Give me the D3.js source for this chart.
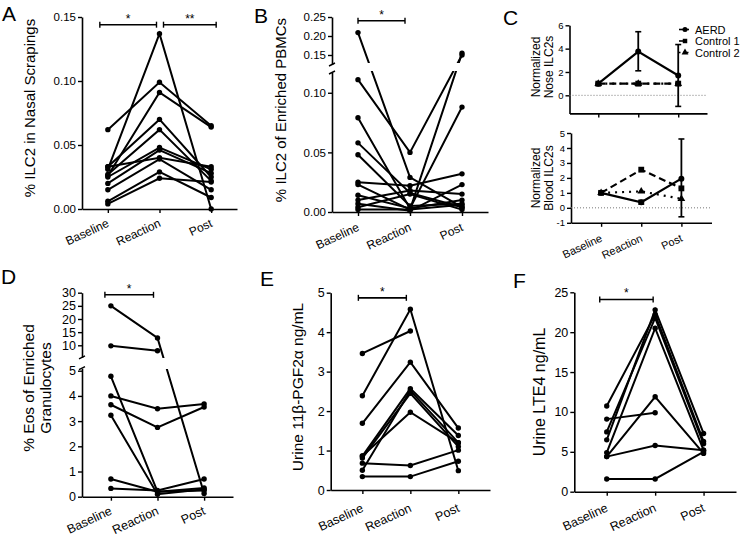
<!DOCTYPE html>
<html><head><meta charset="utf-8">
<script src="https://cdn.jsdelivr.net/npm/d3@7"></script>
<style>
body{margin:0;background:#fff}
svg{display:block}
text{font-family:"Liberation Sans",Arial,sans-serif;fill:#000}
</style>
</head><body>
<svg id="c" width="745" height="545" font-family="Liberation Sans, Arial, sans-serif"></svg>
<script>
const categories = ["Baseline","Reaction","Post"];

// Panel A: % ILC2 in Nasal Scrapings
const aBaseline = [0.062, 0.031, 0.026, 0.033, 0.027, 0.025, 0.020, 0.033, 0.015, 0.006, 0.004];
const aReaction = [0.099, 0.137, 0.091, 0.070, 0.062, 0.048, 0.046, 0.040, 0.039, 0.029, 0.024];
const aPost     = [0.065, 0.000, 0.064, 0.025, 0.022, 0.031, 0.028, 0.033, 0.015, 0.009, 0.021];
const aTicks = [0, 0.05, 0.10, 0.15];

// Panel B: % ILC2 of Enriched PBMCs
const bBaseline = [0.209, 0.111, 0.079, 0.058, 0.048, 0.025, 0.023, 0.014, 0.010, 0.007, 0.004, 0.002];
const bReaction = [0.029, 0.050, 0.003, 0.016, 0.005, 0.022, 0.002, 0.003, 0.018, 0.001, 0.015, 0.002];
const bPost     = [0.004, 0.150, 0.010, 0.004, 0.007, 0.032, 0.155, 0.088, 0.015, 0.023, 0.002, 0.006];
const bTicksLow = [0, 0.05, 0.10];
const bTicksHigh = [0.15, 0.20, 0.25];

// Panel C: normalized ILC2s
const cSeriesNames = ["AERD", "Control 1", "Control 2"];
const cNoseAERD   = [1, 3.75, 1.70];
const cNoseAERDlo = [1, 2.10, -0.95];
const cNoseAERDhi = [1, 5.45, 4.35];
const cNoseCtrl1  = [1, 1, 1];
const cNoseCtrl2  = [1, 1, 1];
const cBloodAERD   = [1, 0.37, 1.95];
const cBloodAERDlo = [1, 0.25, -0.60];
const cBloodAERDhi = [1, 0.50, 4.60];
const cBloodCtrl1  = [1, 2.55, 1.30];
const cBloodCtrl2  = [1, 1.10, 0.60];
const cNoseTicks = [0, 2, 4, 6];
const cBloodTicks = [-1, 0, 1, 2, 3, 4, 5];

// Panel D: % Eos of Enriched Granulocytes
const dBaseline = [25.0, 9.8, 4.78, 4.00, 3.65, 3.23, 0.70, 0.33];
const dReaction = [12.8, 7.9, 0.20, 3.49, 2.75, 0.10, 0.20, 0.25];
const dPost     = [0.13, null, 0.35, 3.68, 3.56, 0.30, 0.25, 0.70];
const dTicksLow = [0, 1, 2, 3, 4, 5];
const dTicksHigh = [10, 15, 20, 25, 30];

// Panel E: Urine 11β-PGF2α
const eBaseline = [3.46, 2.39, 1.69, 0.86, 0.50, 0.81, 0.86, 0.68, 0.34];
const eReaction = [4.03, 4.58, 3.24, 2.57, 2.52, 2.45, 1.97, 0.62, 0.34];
const ePost     = [null, 0.49, 1.57, 1.38, 1.20, 1.10, 1.20, 1.01, 0.73];
const eTicks = [0, 1, 2, 3, 4, 5];

// Panel F: Urine LTE4
const fBaseline = [10.75, 9.1, 7.5, 6.5, 4.9, 4.4, 4.4, 1.6];
const fReaction = [22.2, 9.9, 21.8, 22.8, 20.5, 11.9, 5.8, 1.6];
const fPost     = [6.3, null, 6.0, 7.3, 5.2, 4.8, 5.2, 5.0];
const fTicks = [0, 5, 10, 15, 20, 25];

const FONT = "Liberation Sans, Arial, sans-serif";
const svg = d3.select("#c");
const defs = svg.append("defs");
let clipId = 0;

function styleAxis(ga, font) {
  ga.attr("font-family", FONT);
  ga.select(".domain").attr("stroke", "#000").attr("stroke-width", 1.6);
  ga.selectAll(".tick line").attr("stroke", "#000").attr("stroke-width", 1.4);
  ga.selectAll(".tick text").attr("font-family", FONT).attr("font-size", font).attr("fill", "#000");
}

function panel(o) {
  const g = svg.append("g");
  const x = d3.scalePoint().domain(categories).range([o.x0, o.x1]).padding(o.pad);
  const y = d3.scaleLinear().domain(o.yDomain).range(o.yRange);
  o.segs.forEach(s => {
    const sc = d3.scaleLinear().domain(s.domain).range(s.range);
    const ga = g.append("g").attr("transform", `translate(${o.x0},0)`)
      .call(d3.axisLeft(sc).tickValues(s.ticks).tickFormat(o.fmt).tickSize(4).tickSizeOuter(0).tickPadding(2));
    styleAxis(ga, o.tickFont);
  });
  if (o.segs.length > 1) {
    [o.segs[0].range[1], o.segs[1].range[0]].forEach(ey => {
      g.append("line").attr("x1", o.x0 - 3).attr("x2", o.x0 + 3)
        .attr("y1", ey + 1.5).attr("y2", ey - 1.5)
        .attr("stroke", "#000").attr("stroke-width", 1.4);
    });
  }
  const axisY = o.xAxisY;
  const gx = g.append("g").attr("transform", `translate(0,${axisY})`)
    .call(d3.axisBottom(x).tickSize(4).tickSizeOuter(0).tickFormat(""));
  styleAxis(gx, 12);
  gx.selectAll(".tick text").remove();
  if (o.xLabels) {
    g.append("g").selectAll("g").data(categories).join("g")
      .attr("transform", d => `translate(${x(d) + 2},${axisY + o.ly}) rotate(-25)`)
      .append("text").attr("font-family", FONT).attr("font-size", o.xFont)
      .attr("text-anchor", "end").text(d => d);
  }
  let clip = null;
  if (o.gap) {
    const id = "clip" + (clipId++);
    const cp = defs.append("clipPath").attr("id", id);
    cp.append("rect").attr("x", 0).attr("y", 0).attr("width", 745).attr("height", o.gap[0]);
    cp.append("rect").attr("x", 0).attr("y", o.gap[1]).attr("width", 745).attr("height", 545 - o.gap[1]);
    clip = `url(#${id})`;
  }
  if (o.series) {
    const rows = o.series[0].map((b, i) => o.series.map(s => s[i]));
    const line = d3.line().defined(d => d != null)
      .x((d, i) => x(categories[i])).y(d => y(d));
    const dl = g.append("g").attr("clip-path", clip);
    dl.selectAll("path.subj").data(rows).join("path").attr("class", "subj")
      .attr("d", line).attr("fill", "none").attr("stroke", "#000").attr("stroke-width", 2);
    const pts = [];
    rows.forEach(r => r.forEach((v, i) => { if (v != null) pts.push([i, v]); }));
    g.selectAll("circle.pt").data(pts).join("circle").attr("class", "pt")
      .attr("cx", d => x(categories[d[0]])).attr("cy", d => y(d[1])).attr("r", 2.7).attr("fill", "#000");
  }
  (o.brackets || []).forEach(b => {
    const x1 = x(categories[b.a]) + b.da, x2 = x(categories[b.b]) + b.db, yy = y(b.v);
    g.append("line").attr("x1", x1).attr("x2", x2).attr("y1", yy).attr("y2", yy).attr("stroke", "#000").attr("stroke-width", 1.6);
    [x1, x2].forEach(xx => g.append("line").attr("x1", xx).attr("x2", xx).attr("y1", yy - 3).attr("y2", yy + 3).attr("stroke", "#000").attr("stroke-width", 1.4));
    g.append("text").attr("x", (x1 + x2) / 2).attr("y", yy - 2).attr("text-anchor", "middle")
      .attr("font-family", FONT).attr("font-size", 12).text(b.label);
  });
  if (o.title) {
    const t = g.append("text").attr("transform", `translate(${o.titleX},${o.titleY}) rotate(-90)`)
      .attr("text-anchor", "middle").attr("font-family", FONT).attr("font-size", o.titleFont);
    o.title.forEach((s, i) => t.append("tspan").attr("x", 0).attr("dy", i === 0 ? 0 : "1.1em").text(s));
  }
  if (o.letter) {
    g.append("text").attr("x", o.letter[1]).attr("y", o.letter[2])
      .attr("font-family", "Open Sans, sans-serif").attr("font-size", 21).text(o.letter[0]);
  }
  return { g, x, y };
}

const fmt2 = d3.format(".2f");
const fmtI = d => String(d);

panel({ x0: 82, x1: 237, pad: 0.5, yDomain: [0, 0.15], yRange: [209, 17], xAxisY: 209,
  segs: [{ domain: [0, 0.15], range: [209, 17], ticks: aTicks }], fmt: fmt2, tickFont: 11.5,
  xLabels: true, xFont: 12, ly: 17,
  series: [aBaseline, aReaction, aPost],
  brackets: [{ a: 0, da: -8, b: 1, db: -3, v: 0.144, label: "*" }, { a: 1, da: 4, b: 2, db: 5, v: 0.144, label: "**" }],
  title: ["% ILC2 in Nasal Scrapings"], titleX: 35, titleY: 108, titleFont: 15, letter: ["A", 2, 21] });

panel({ x0: 332, x1: 488, pad: 0.5, yDomain: [0, 0.117, 0.125, 0.25], yRange: [212, 72.5, 64.5, 17], xAxisY: 212,
  segs: [{ domain: [0, 0.117], range: [212, 72.5], ticks: bTicksLow }, { domain: [0.125, 0.25], range: [64.5, 17], ticks: bTicksHigh }],
  fmt: fmt2, tickFont: 11.5, xLabels: true, xFont: 12, ly: 18, gap: [63, 71],
  series: [bBaseline, bReaction, bPost],
  brackets: [{ a: 0, da: 0, b: 1, db: -5, v: 0.24, label: "*" }],
  title: ["% ILC2 of Enriched PBMCs"], titleX: 286, titleY: 110, titleFont: 15, letter: ["B", 254, 23] });

panel({ x0: 82, x1: 233, pad: 0.62, yDomain: [0, 5.1, 5.4, 30], yRange: [496.7, 368.2, 357.4, 292.7], xAxisY: 496.7,
  segs: [{ domain: [0, 5.1], range: [496.7, 368.2], ticks: dTicksLow }, { domain: [5.4, 30], range: [357.4, 292.7], ticks: dTicksHigh }],
  fmt: fmtI, tickFont: 12.5, xLabels: true, xFont: 12.5, ly: 17, gap: [358, 369],
  series: [dBaseline, dReaction, dPost],
  brackets: [{ a: 0, da: -6, b: 1, db: -4, v: 29.2, label: "*" }],
  title: ["% Eos of Enriched", "Granulocytes"], titleX: 34, titleY: 388, titleFont: 15.5, letter: ["D", 1, 284] });

panel({ x0: 330.7, x1: 490, pad: 0.66, yDomain: [0, 5], yRange: [490, 292.7], xAxisY: 490,
  segs: [{ domain: [0, 5], range: [490, 292.7], ticks: eTicks }],
  fmt: fmtI, tickFont: 12.5, xLabels: true, xFont: 12.5, ly: 21,
  series: [eBaseline, eReaction, ePost],
  brackets: [{ a: 0, da: -4, b: 1, db: -4, v: 4.87, label: "*" }],
  title: ["Urine 11β-PGF2α ng/mL"], titleX: 303, titleY: 387, titleFont: 15.5, letter: ["E", 260, 286] });

panel({ x0: 574.3, x1: 736, pad: 0.67, yDomain: [0, 25], yRange: [491.7, 292.3], xAxisY: 491.7,
  segs: [{ domain: [0, 25], range: [491.7, 292.3], ticks: fTicks }],
  fmt: fmtI, tickFont: 12.5, xLabels: true, xFont: 12.5, ly: 19,
  series: [fBaseline, fReaction, fPost],
  brackets: [{ a: 0, da: -7, b: 1, db: -2, v: 24.1, label: "*" }],
  title: ["Urine LTE4 ng/mL"], titleX: 545, titleY: 392, titleFont: 16, letter: ["F", 513, 288] });

// Panel C
function cPlot(o) {
  const p = panel(o);
  const { g, x, y } = p;
  g.append("line").attr("x1", o.x0).attr("x2", o.x1).attr("y1", y(0)).attr("y2", y(0))
    .attr("stroke", "#777").attr("stroke-width", 1).attr("stroke-dasharray", "1,2");
  const line = d3.line().x((d, i) => x(categories[i])).y(d => y(d));
  const styles = [
    { vals: o.aerd, dash: null, sym: d3.symbolCircle, size: 28 },
    { vals: o.c1, dash: "7,4", sym: d3.symbolSquare, size: 34 },
    { vals: o.c2, dash: "2,5", sym: d3.symbolTriangle, size: 26 }
  ];
  styles.slice().reverse().forEach(s => {
    g.append("path").attr("d", line(s.vals)).attr("fill", "none").attr("stroke", "#000")
      .attr("stroke-width", 2.2).attr("stroke-dasharray", s.dash);
    s.vals.forEach((v, i) => g.append("path").attr("d", d3.symbol(s.sym, s.size)())
      .attr("transform", `translate(${x(categories[i])},${y(v)})`).attr("fill", "#000"));
  });
  o.aerd.forEach((v, i) => {
    if (o.hi[i] === o.lo[i]) return;
    const xx = x(categories[i]);
    g.append("line").attr("x1", xx).attr("x2", xx).attr("y1", y(o.lo[i])).attr("y2", y(o.hi[i])).attr("stroke", "#000").attr("stroke-width", 1.8);
    [o.lo[i], o.hi[i]].forEach(vv => g.append("line").attr("x1", xx - 3).attr("x2", xx + 3).attr("y1", y(vv)).attr("y2", y(vv)).attr("stroke", "#000").attr("stroke-width", 1.6));
  });
  return p;
}

cPlot({ x0: 569.5, x1: 707, pad: 0.72, yDomain: [-1.55, 6], yRange: [113.4, 25.3], xAxisY: 113.4,
  segs: [{ domain: [-1.55, 6], range: [113.4, 25.3], ticks: cNoseTicks }], fmt: fmtI, tickFont: 9.5,
  xLabels: false, title: ["Normalized", "Nose ILC2s"], titleX: 540, titleY: 67, titleFont: 12,
  letter: ["C", 503, 25],
  aerd: cNoseAERD, lo: cNoseAERDlo, hi: cNoseAERDhi, c1: cNoseCtrl1, c2: cNoseCtrl2 });

cPlot({ x0: 571, x1: 711.5, pad: 0.75, yDomain: [-1, 5], yRange: [222.8, 133], xAxisY: 222.8,
  segs: [{ domain: [-1, 5], range: [222.8, 133], ticks: cBloodTicks }], fmt: fmtI, tickFont: 9.5,
  xLabels: true, xFont: 11, ly: 18, title: ["Normalized", "Blood ILC2s"], titleX: 540, titleY: 178, titleFont: 12,
  aerd: cBloodAERD, lo: cBloodAERDlo, hi: cBloodAERDhi, c1: cBloodCtrl1, c2: cBloodCtrl2 });

// legend
const leg = svg.append("g");
const legSyms = [d3.symbolCircle, d3.symbolSquare, d3.symbolTriangle];
const legDash = [null, "7,4", "1.5,2.5"];
cSeriesNames.forEach((n, i) => {
  const yy = 29.5 + i * 11.5;
  leg.append("line").attr("x1", 679).attr("x2", 689).attr("y1", yy).attr("y2", yy)
    .attr("stroke", "#000").attr("stroke-width", 1.6).attr("stroke-dasharray", legDash[i]);
  leg.append("path").attr("d", d3.symbol(legSyms[i], 20)()).attr("transform", `translate(685,${yy})`);
  leg.append("text").attr("x", 695).attr("y", yy + 4).attr("font-family", FONT).attr("font-size", 11).text(n);
});
</script>
</body></html>
